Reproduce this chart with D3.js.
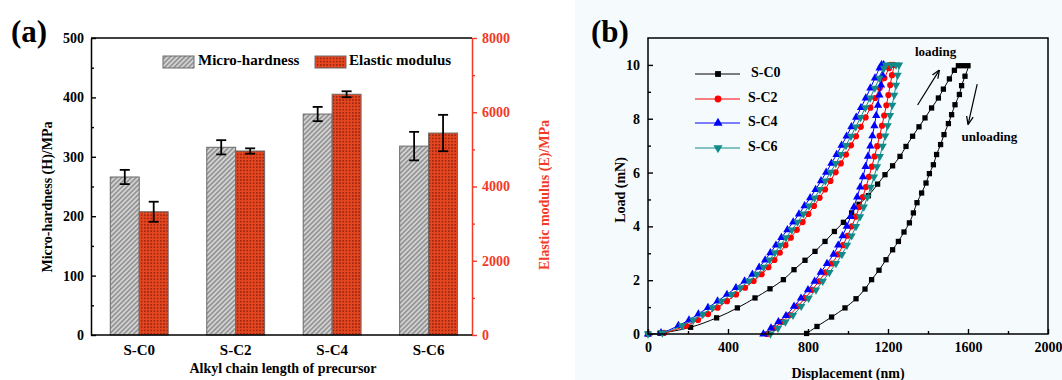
<!DOCTYPE html>
<html>
<head>
<meta charset="utf-8">
<script src="https://cdn.jsdelivr.net/npm/d3@7"></script>
<style>
body { margin: 0; background: #fff; }
text { font-family: "Liberation Serif", "Times New Roman", serif; font-weight: bold; }
</style>
</head>
<body>
<div id="chart"></div>
<script>
// ---- panel (a) data ----
var categories = ["S-C0", "S-C2", "S-C4", "S-C6"];
var hardness = [266, 316, 372, 318];
var hardnessErr = [12, 12, 12, 24];
var modulus = [3320, 4956, 6485, 5440];
var modulusErr = [270, 72, 80, 490];
var hardTicks = [0, 100, 200, 300, 400, 500];
var modTicks = [0, 2000, 4000, 6000, 8000];

// ---- panel (b) data: [displacement nm, load mN] ----
var c0Load = [[0,0],[60,0.03],[213,0.25],[343,0.6],[447,0.97],[535,1.34],[610,1.68],[677,2.02],[730,2.39],[785,2.74],[835,3.07],[885,3.44],[932,3.81],[977,4.15],[1018,4.5],[1055,4.82],[1102,5.14],[1148,5.57],[1185,5.92],[1223,6.25],[1260,6.6],[1290,6.97],[1323,7.35],[1355,7.7],[1385,8.03],[1418,8.4],[1452,8.77],[1477,9.1],[1507,9.48],[1532,9.8],[1552,9.97],[1577,9.97]];
var c0Unload = [[1600,9.97],[1585,9.58],[1568,9.23],[1557,8.9],[1535,8.52],[1518,8.15],[1502,7.82],[1480,7.41],[1463,7.04],[1443,6.67],[1427,6.29],[1407,5.96],[1390,5.61],[1368,5.24],[1345,4.88],[1327,4.5],[1307,4.13],[1280,3.79],[1252,3.44],[1223,3.13],[1190,2.76],[1155,2.37],[1118,2.02],[1085,1.67],[1040,1.31],[985,0.97],[918,0.63],[845,0.28],[793,0.02]];
var c2Load = [[0,0],[80,0.04],[190,0.31],[250,0.52],[300,0.74],[348,0.98],[395,1.22],[440,1.47],[485,1.72],[528,1.97],[568,2.22],[602,2.48],[632,2.75],[659,3.02],[687,3.3],[714,3.58],[744,3.87],[773,4.16],[802,4.46],[830,4.76],[858,5.06],[885,5.37],[912,5.69],[938,6.01],[964,6.34],[990,6.67],[1015,7.01],[1040,7.35],[1064,7.7],[1088,8.05],[1112,8.41],[1136,8.77],[1159,9.14],[1182,9.51],[1205,9.88],[1213,10.0]];
var c2Unload = [[1228,10],[1220,9.62],[1211,9.25],[1202,8.88],[1192,8.5],[1181,8.12],[1170,7.74],[1158,7.36],[1146,6.98],[1133,6.6],[1119,6.22],[1105,5.84],[1090,5.46],[1074,5.09],[1057,4.72],[1039,4.36],[1019,4.0],[998,3.65],[975,3.3],[951,2.96],[919,2.62],[887,2.29],[855,1.96],[821,1.64],[785,1.33],[749,1.03],[708,0.7],[670,0.45],[632,0.22],[595,0]];
var c4Load = [[0,0],[65,0.04],[152,0.31],[205,0.52],[252,0.74],[300,0.98],[348,1.22],[395,1.47],[440,1.72],[483,1.97],[522,2.22],[556,2.48],[586,2.75],[612,3.02],[640,3.3],[667,3.58],[697,3.87],[726,4.16],[755,4.46],[783,4.76],[811,5.06],[838,5.37],[865,5.69],[891,6.01],[917,6.34],[943,6.67],[968,7.01],[993,7.35],[1017,7.7],[1041,8.05],[1065,8.41],[1089,8.77],[1112,9.14],[1135,9.51],[1158,9.88],[1168,10.0]];
var c4Unload = [[1178,10],[1172,9.62],[1165,9.25],[1157,8.88],[1150,8.5],[1141,8.12],[1132,7.74],[1122,7.36],[1112,6.98],[1100,6.6],[1088,6.22],[1075,5.84],[1061,5.46],[1046,5.09],[1030,4.72],[1013,4.36],[994,4.0],[973,3.65],[951,3.3],[928,2.96],[895,2.62],[864,2.29],[833,1.96],[800,1.64],[765,1.33],[730,1.03],[690,0.68],[652,0.45],[615,0.22],[577,0]];
var c6Load = [[0,0],[72,0.04],[170,0.31],[226,0.52],[274,0.74],[322,0.98],[368,1.22],[418,1.47],[462,1.72],[505,1.97],[544,2.22],[578,2.48],[608,2.75],[634,3.02],[662,3.3],[690,3.58],[719,3.87],[748,4.16],[777,4.46],[805,4.76],[833,5.06],[860,5.37],[887,5.69],[913,6.01],[939,6.34],[965,6.67],[990,7.01],[1015,7.35],[1039,7.7],[1063,8.05],[1087,8.41],[1111,8.77],[1134,9.14],[1157,9.51],[1180,9.88],[1190,10.0],[1215,10.0],[1240,10.0]];
var c6Unload = [[1255,10],[1248,9.62],[1240,9.25],[1231,8.88],[1221,8.5],[1210,8.12],[1198,7.74],[1186,7.36],[1173,6.98],[1159,6.6],[1145,6.22],[1130,5.84],[1114,5.46],[1097,5.09],[1079,4.72],[1060,4.36],[1040,4.0],[1018,3.65],[995,3.3],[970,2.96],[940,2.62],[907,2.29],[874,1.96],[840,1.64],[803,1.33],[766,1.03],[725,0.7],[687,0.45],[650,0.22],[612,0]];
var dispTicks = [0, 400, 800, 1200, 1600, 2000];
var loadTicks = [0, 2, 4, 6, 8, 10];

var series = [
    {name: "S-C0", color: "#000000", symbol: d3.symbolSquare, size: 28, rot: 0, data: c0Load.concat(c0Unload)},
    {name: "S-C2", color: "#ff0000", symbol: d3.symbolCircle, size: 30, rot: 0, data: c2Load.concat(c2Unload)},
    {name: "S-C4", color: "#0000ff", symbol: d3.symbolTriangle, size: 30, rot: 0, data: c4Load.concat(c4Unload)},
    {name: "S-C6", color: "#138a8a", symbol: d3.symbolTriangle, size: 30, rot: 180, data: c6Load.concat(c6Unload)}
];

var red = "#f23a26";
var fmt = d3.format("d");

var svg = d3.select("#chart").append("svg")
    .attr("width", 1062)
    .attr("height", 380);

// background tint of panel (b)
svg.append("rect").attr("x", 575).attr("y", 0).attr("width", 487).attr("height", 380).attr("fill", "#f5fafd");

var defs = svg.append("defs");
var hatch = defs.append("pattern")
    .attr("id", "hatch")
    .attr("patternUnits", "userSpaceOnUse")
    .attr("width", 3.4).attr("height", 3.4)
    .attr("patternTransform", "rotate(45)");
hatch.append("rect").attr("width", 3.4).attr("height", 3.4).attr("fill", "#d2d2d2");
hatch.append("line").attr("x1", 0.8).attr("y1", 0).attr("x2", 0.8).attr("y2", 3.4)
    .attr("stroke", "#7c7c7c").attr("stroke-width", 1.2);

var check = defs.append("pattern")
    .attr("id", "check")
    .attr("patternUnits", "userSpaceOnUse")
    .attr("width", 3.2).attr("height", 3.2);
check.append("rect").attr("width", 3.2).attr("height", 3.2).attr("fill", "#e8461f");
check.append("rect").attr("width", 1.7).attr("height", 1.7).attr("fill", "#9a2a14");

defs.append("marker")
    .attr("id", "arrow")
    .attr("viewBox", "0 0 10 10")
    .attr("refX", 9).attr("refY", 5)
    .attr("markerWidth", 7).attr("markerHeight", 7)
    .attr("orient", "auto")
    .append("path")
    .attr("d", "M0,1 L10,5 L0,9")
    .attr("fill", "none").attr("stroke", "#000").attr("stroke-width", 1.5);

function styleAxis(g, color) {
    g.attr("font-family", "Liberation Serif").attr("font-size", 14).attr("font-weight", "bold");
    g.selectAll("text").attr("fill", color);
    g.selectAll("line").attr("stroke", color).attr("stroke-width", 1.4);
    g.select(".domain").attr("stroke", color).attr("stroke-width", 1.5);
}

// ================= panel (a) =================
var xA = d3.scaleLinear().domain([0.5, 4.45]).range([91, 472]);
var yH = d3.scaleLinear().domain([0, 500]).range([335, 38]);
var yE = d3.scaleLinear().domain([0, 8000]).range([335, 38]);
var barW = 0.3;

var gA = svg.append("g");

// grey bars (micro-hardness)
gA.selectAll(".hbar").data(hardness).enter().append("rect")
    .attr("class", "hbar")
    .attr("x", function (d, i) { return xA(i + 1 - barW); })
    .attr("y", function (d) { return yH(d); })
    .attr("width", function (d, i) { return xA(i + 1) - xA(i + 1 - barW); })
    .attr("height", function (d) { return yH(0) - yH(d); })
    .attr("fill", "url(#hatch)")
    .attr("stroke", "#6a6a6a").attr("stroke-width", 1);

// red bars (elastic modulus)
gA.selectAll(".ebar").data(modulus).enter().append("rect")
    .attr("class", "ebar")
    .attr("x", function (d, i) { return xA(i + 1); })
    .attr("y", function (d) { return yE(d); })
    .attr("width", function (d, i) { return xA(i + 1 + barW) - xA(i + 1); })
    .attr("height", function (d) { return yE(0) - yE(d); })
    .attr("fill", "url(#check)")
    .attr("stroke", "#6a6a6a").attr("stroke-width", 1);

// error bars
function errorBars(vals, errs, yScale, offset) {
    vals.forEach(function (v, i) {
        var cx = xA(i + 1 + offset);
        var top = yScale(v + errs[i]), bot = yScale(v - errs[i]);
        gA.append("line").attr("x1", cx).attr("x2", cx).attr("y1", top).attr("y2", bot)
            .attr("stroke", "#000").attr("stroke-width", 1.8);
        [top, bot].forEach(function (yy) {
            gA.append("line").attr("x1", cx - 5).attr("x2", cx + 5).attr("y1", yy).attr("y2", yy)
                .attr("stroke", "#000").attr("stroke-width", 1.8);
        });
    });
}
errorBars(hardness, hardnessErr, yH, -barW / 2);
errorBars(modulus, modulusErr, yE, barW / 2);

// left axis
var leftA = gA.append("g").attr("transform", "translate(91,0)")
    .call(d3.axisLeft(yH).tickValues(hardTicks).tickFormat(fmt).tickSize(-5).tickSizeOuter(0).tickPadding(7));
styleAxis(leftA, "#000");
gA.append("g").attr("transform", "translate(91,0)")
    .call(d3.axisLeft(yH).tickValues(d3.range(50, 500, 100)).tickSize(-3).tickFormat(""))
    .call(function (g) { g.select(".domain").remove(); g.selectAll("line").attr("stroke", "#000").attr("stroke-width", 1.4); });

// right axis (red)
var rightA = gA.append("g").attr("transform", "translate(472,0)")
    .call(d3.axisRight(yE).tickValues(modTicks).tickFormat(fmt).tickSize(5).tickSizeOuter(0).tickPadding(5));
styleAxis(rightA, red);
gA.append("g").attr("transform", "translate(472,0)")
    .call(d3.axisRight(yE).tickValues(d3.range(1000, 8000, 2000)).tickSize(3).tickFormat(""))
    .call(function (g) { g.select(".domain").remove(); g.selectAll("line").attr("stroke", red).attr("stroke-width", 1.4); });

// top and bottom frame lines
gA.append("line").attr("x1", 91).attr("x2", 472).attr("y1", 38).attr("y2", 38).attr("stroke", "#000").attr("stroke-width", 1.5);
gA.append("line").attr("x1", 91).attr("x2", 472).attr("y1", 335).attr("y2", 335).attr("stroke", "#000").attr("stroke-width", 1.5);

// category labels
gA.selectAll(".cat").data(categories).enter().append("text")
    .attr("x", function (d, i) { return xA(i + 1); })
    .attr("y", 355)
    .attr("text-anchor", "middle")
    .attr("font-size", 15)
    .text(function (d) { return d; });

gA.append("text").attr("x", 283).attr("y", 373).attr("text-anchor", "middle").attr("font-size", 14)
    .text("Alkyl chain length of precursor");
gA.append("text").attr("transform", "translate(52,197) rotate(-90)").attr("text-anchor", "middle").attr("font-size", 14)
    .text("Micro-hardness (H)/MPa");
gA.append("text").attr("transform", "translate(549,195) rotate(-90)").attr("text-anchor", "middle").attr("font-size", 14)
    .attr("fill", red).text("Elastic modulus (E)/MPa");
gA.append("text").attr("x", 11).attr("y", 42).attr("font-size", 31).text("(a)");

// legend (a)
gA.append("rect").attr("x", 163).attr("y", 56).attr("width", 31).attr("height", 12)
    .attr("fill", "url(#hatch)").attr("stroke", "#6a6a6a");
gA.append("text").attr("x", 198).attr("y", 62).attr("dominant-baseline", "middle").attr("font-size", 15).text("Micro-hardness");
gA.append("rect").attr("x", 315).attr("y", 56).attr("width", 31).attr("height", 12)
    .attr("fill", "url(#check)").attr("stroke", "#6a6a6a");
gA.append("text").attr("x", 349).attr("y", 62).attr("dominant-baseline", "middle").attr("font-size", 15).text("Elastic modulus");

// ================= panel (b) =================
var xB = d3.scaleLinear().domain([0, 2000]).range([648, 1048]);
var yB = d3.scaleLinear().domain([0, 11]).range([334, 38]);
var gB = svg.append("g");

var line = d3.line()
    .x(function (d) { return xB(d[0]); })
    .y(function (d) { return yB(d[1]); })
    .curve(d3.curveCatmullRom);

series.forEach(function (s) {
    gB.append("path").datum(s.data)
        .attr("d", line)
        .attr("fill", "none")
        .attr("stroke", s.color)
        .attr("stroke-width", 1);
    gB.selectAll(null).data(s.data).enter().append("path")
        .attr("d", d3.symbol().type(s.symbol).size(s.size))
        .attr("transform", function (d) { return "translate(" + xB(d[0]) + "," + yB(d[1]) + ") rotate(" + s.rot + ")"; })
        .attr("fill", s.color);
});

// frame
gB.append("rect").attr("x", 648).attr("y", 38).attr("width", 400).attr("height", 296)
    .attr("fill", "none").attr("stroke", "#000").attr("stroke-width", 1.5);

var leftB = gB.append("g").attr("transform", "translate(648,0)")
    .call(d3.axisLeft(yB).tickValues(loadTicks).tickFormat(fmt).tickSize(-5).tickSizeOuter(0).tickPadding(8));
styleAxis(leftB, "#000");
leftB.select(".domain").remove();
gB.append("g").attr("transform", "translate(648,0)")
    .call(d3.axisLeft(yB).tickValues(d3.range(1, 11, 2)).tickSize(-3).tickFormat(""))
    .call(function (g) { g.select(".domain").remove(); g.selectAll("line").attr("stroke", "#000").attr("stroke-width", 1.4); });

var bottomB = gB.append("g").attr("transform", "translate(0,334)")
    .call(d3.axisBottom(xB).tickValues(dispTicks).tickFormat(fmt).tickSize(-5).tickSizeOuter(0).tickPadding(8));
styleAxis(bottomB, "#000");
bottomB.select(".domain").remove();
gB.append("g").attr("transform", "translate(0,334)")
    .call(d3.axisBottom(xB).tickValues(d3.range(200, 2000, 400)).tickSize(-3).tickFormat(""))
    .call(function (g) { g.select(".domain").remove(); g.selectAll("line").attr("stroke", "#000").attr("stroke-width", 1.4); });

gB.append("text").attr("x", 848).attr("y", 378).attr("text-anchor", "middle").attr("font-size", 14)
    .text("Displacement (nm)");
gB.append("text").attr("transform", "translate(625,190) rotate(-90)").attr("text-anchor", "middle").attr("font-size", 14)
    .text("Load (mN)");
gB.append("text").attr("x", 591).attr("y", 42).attr("font-size", 31).text("(b)");

// legend (b)
var legRows = [74, 99, 123, 148];
series.forEach(function (s, i) {
    var ly = legRows[i];
    gB.append("line").attr("x1", 695).attr("x2", 740).attr("y1", ly).attr("y2", ly)
        .attr("stroke", s.color).attr("stroke-width", 1);
    gB.append("path")
        .attr("d", d3.symbol().type(s.symbol).size(s.size + 6))
        .attr("transform", "translate(718," + ly + ") rotate(" + s.rot + ")")
        .attr("fill", s.color);
    gB.append("text").attr("x", i === 0 ? 751 : 748).attr("y", ly).attr("dominant-baseline", "middle")
        .attr("font-size", 14).text(s.name);
});

// annotations
gB.append("text").attr("x", xB(1335)).attr("y", yB(10.45)).attr("dominant-baseline", "middle")
    .attr("font-size", 13).text("loading");
gB.append("text").attr("x", xB(1568)).attr("y", yB(7.29)).attr("dominant-baseline", "middle")
    .attr("font-size", 13).text("unloading");
gB.append("line").attr("x1", xB(1348)).attr("y1", yB(8.51)).attr("x2", xB(1455)).attr("y2", yB(9.79))
    .attr("stroke", "#000").attr("stroke-width", 1.2).attr("marker-end", "url(#arrow)");
gB.append("line").attr("x1", xB(1646)).attr("y1", yB(9.29)).attr("x2", xB(1601)).attr("y2", yB(7.81))
    .attr("stroke", "#000").attr("stroke-width", 1.2).attr("marker-end", "url(#arrow)");
</script>
</body>
</html>
